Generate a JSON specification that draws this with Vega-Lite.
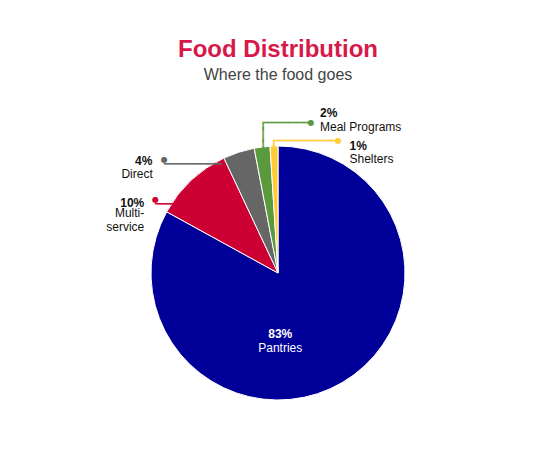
{
  "$schema": "https://vega.github.io/schema/vega-lite/v6.json",
  "title": {
    "text": "Food Distribution",
    "subtitle": "Where the food goes",
    "font": "Liberation Sans",
    "fontSize": 24,
    "fontWeight": "bold",
    "color": "#D7194A",
    "subtitleFont": "Liberation Sans",
    "subtitleFontSize": 16,
    "subtitleColor": "#444444",
    "subtitlePadding": 5,
    "anchor": "middle",
    "offset": 6
  },
  "autosize": "none",
  "padding": {"left": 13, "top": 89, "right": 0, "bottom": 0},
  "width": 530,
  "height": 368,
  "background": "white",
  "data": {
    "values": [
      {"category": "Pantries", "label": "Pantries", "share": 0.83, "rank": 1},
      {"category": "Multi-service", "label": "Multi-\nservice", "share": 0.10, "rank": 2},
      {"category": "Direct", "label": "Direct", "share": 0.04, "rank": 3},
      {"category": "Meal Programs", "label": "Meal Programs", "share": 0.02, "rank": 4},
      {"category": "Shelters", "label": "Shelters", "share": 0.01, "rank": 5}
    ]
  },
  "encoding": {
    "theta": {"field": "share", "type": "quantitative", "stack": true},
    "order": {"field": "rank", "type": "quantitative"},
    "detail": {"field": "category", "type": "nominal"}
  },
  "layer": [
    {
      "mark": {"type": "arc", "radius": 127, "stroke": "white", "strokeWidth": 1},
      "encoding": {
        "color": {
          "field": "category",
          "type": "nominal",
          "scale": {
            "domain": ["Pantries", "Multi-service", "Direct", "Meal Programs", "Shelters"],
            "range": ["#000099", "#CC0033", "#666666", "#5A9A3C", "#FFCC33"]
          },
          "legend": null
        }
      }
    },
    {
      "mark": {"type": "text", "radius": 65, "font": "Liberation Sans", "fontSize": 12, "fontWeight": "bold", "color": "white", "align": "center", "dx": -30.8, "dy": 5.1},
      "encoding": {"text": {"condition": {"test": "datum.category === 'Pantries'", "field": "share", "type": "quantitative", "format": ".0%"}, "value": ""}}
    },
    {
      "mark": {"type": "text", "radius": 65, "font": "Liberation Sans", "fontSize": 12, "color": "white", "align": "center", "dx": -30.8, "dy": 18.8},
      "encoding": {"text": {"condition": {"test": "datum.category === 'Pantries'", "field": "label"}, "value": ""}}
    },
    {
      "mark": {"type": "text", "radius": 127, "font": "DejaVu Sans Mono", "fontSize": 12, "color": "#CC0033", "stroke": "#CC0033", "strokeWidth": 0.5, "align": "left", "dx": -35.6, "dy": 23.75},
      "encoding": {"text": {"condition": {"test": "datum.category === 'Multi-service'", "value": "────"}, "value": ""}}
    },
    {
      "mark": {"type": "text", "radius": 127, "font": "DejaVu Sans", "fontSize": 8, "color": "#CC0033", "align": "center", "baseline": "middle", "dx": -35.6, "dy": 19.6},
      "encoding": {"text": {"condition": {"test": "datum.category === 'Multi-service'", "value": "●"}, "value": ""}}
    },
    {
      "mark": {"type": "text", "radius": 127, "font": "Liberation Sans", "fontSize": 12, "fontWeight": "bold", "color": "#111111", "align": "right", "dx": -46.8, "dy": 22.3},
      "encoding": {"text": {"condition": {"test": "datum.category === 'Multi-service'", "field": "share", "type": "quantitative", "format": ".0%"}, "value": ""}}
    },
    {
      "mark": {"type": "text", "radius": 127, "font": "Liberation Sans", "fontSize": 12, "color": "#111111", "align": "right", "baseline": "top", "lineBreak": "\n", "lineHeight": 14, "dx": -46.8, "dy": 27.3},
      "encoding": {"text": {"condition": {"test": "datum.category === 'Multi-service'", "field": "label"}, "value": ""}}
    },
    {
      "mark": {"type": "text", "radius": 127, "font": "DejaVu Sans Mono", "fontSize": 12, "color": "#666666", "stroke": "#666666", "strokeWidth": 0.5, "align": "left", "dx": -74.5, "dy": 11.65},
      "encoding": {"text": {"condition": {"test": "datum.category === 'Direct'", "value": "────────"}, "value": ""}}
    },
    {
      "mark": {"type": "text", "radius": 127, "font": "DejaVu Sans", "fontSize": 8, "color": "#666666", "align": "center", "baseline": "middle", "dx": -74.5, "dy": 7.5},
      "encoding": {"text": {"condition": {"test": "datum.category === 'Direct'", "value": "●"}, "value": ""}}
    },
    {
      "mark": {"type": "text", "radius": 127, "font": "Liberation Sans", "fontSize": 12, "fontWeight": "bold", "color": "#111111", "align": "right", "dx": -86.3, "dy": 8.3},
      "encoding": {"text": {"condition": {"test": "datum.category === 'Direct'", "field": "share", "type": "quantitative", "format": ".0%"}, "value": ""}}
    },
    {
      "mark": {"type": "text", "radius": 127, "font": "Liberation Sans", "fontSize": 12, "color": "#111111", "align": "right", "dx": -86, "dy": 22.1},
      "encoding": {"text": {"condition": {"test": "datum.category === 'Direct'", "field": "label"}, "value": ""}}
    },
    {
      "mark": {"type": "text", "radius": 127, "font": "DejaVu Sans Mono", "fontSize": 12.2, "color": "#5A9A3C", "stroke": "#5A9A3C", "strokeWidth": 0.5, "align": "left", "baseline": "top", "lineBreak": "\n", "lineHeight": 12, "dx": -2.47, "dy": -30.1},
      "encoding": {"text": {"condition": {"test": "datum.category === 'Meal Programs'", "value": "┌──────\n│\n│"}, "value": ""}}
    },
    {
      "mark": {"type": "text", "radius": 127, "font": "DejaVu Sans", "fontSize": 8, "color": "#5A9A3C", "align": "center", "baseline": "middle", "dx": 48.9, "dy": -24.3},
      "encoding": {"text": {"condition": {"test": "datum.category === 'Meal Programs'", "value": "●"}, "value": ""}}
    },
    {
      "mark": {"type": "text", "radius": 127, "font": "Liberation Sans", "fontSize": 12, "fontWeight": "bold", "color": "#111111", "align": "left", "dx": 57.9, "dy": -34},
      "encoding": {"text": {"condition": {"test": "datum.category === 'Meal Programs'", "field": "share", "type": "quantitative", "format": ".0%"}, "value": ""}}
    },
    {
      "mark": {"type": "text", "radius": 127, "font": "Liberation Sans", "fontSize": 12, "color": "#111111", "align": "left", "dx": 57.9, "dy": -19.7},
      "encoding": {"text": {"condition": {"test": "datum.category === 'Meal Programs'", "field": "label"}, "value": ""}}
    },
    {
      "mark": {"type": "text", "radius": 127, "font": "DejaVu Sans Mono", "fontSize": 12.58, "color": "#FFCC33", "stroke": "#FFCC33", "strokeWidth": 0.5, "align": "left", "baseline": "top", "lineBreak": "\n", "lineHeight": 12, "dx": -3.79, "dy": -11.05},
      "encoding": {"text": {"condition": {"test": "datum.category === 'Shelters'", "value": "┌────────\n│"}, "value": ""}}
    },
    {
      "mark": {"type": "text", "radius": 127, "font": "DejaVu Sans", "fontSize": 8, "color": "#FFCC33", "align": "center", "baseline": "middle", "dx": 64.3, "dy": -5.4},
      "encoding": {"text": {"condition": {"test": "datum.category === 'Shelters'", "value": "●"}, "value": ""}}
    },
    {
      "mark": {"type": "text", "radius": 127, "font": "Liberation Sans", "fontSize": 12, "fontWeight": "bold", "color": "#111111", "align": "left", "dx": 75.5, "dy": -0.4},
      "encoding": {"text": {"condition": {"test": "datum.category === 'Shelters'", "field": "share", "type": "quantitative", "format": ".0%"}, "value": ""}}
    },
    {
      "mark": {"type": "text", "radius": 127, "font": "Liberation Sans", "fontSize": 12, "color": "#111111", "align": "left", "dx": 75.5, "dy": 13.2},
      "encoding": {"text": {"condition": {"test": "datum.category === 'Shelters'", "field": "label"}, "value": ""}}
    }
  ],
  "config": {"view": {"stroke": null}}
}
